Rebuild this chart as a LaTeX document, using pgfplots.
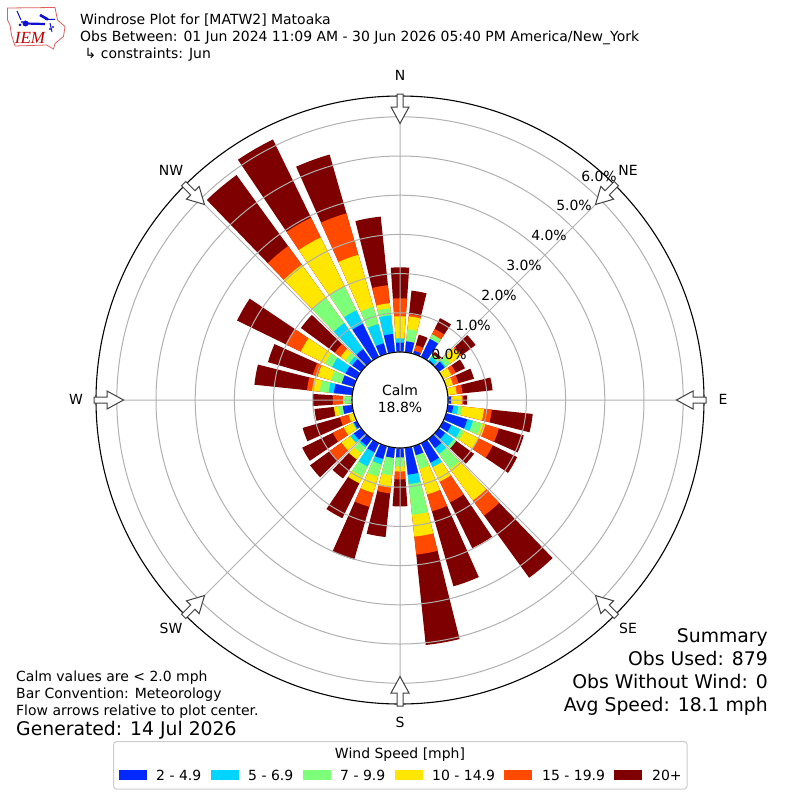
\documentclass[border=0pt]{standalone}
\usepackage{fontspec}
\setmainfont{DejaVu Sans}
\newfontfamily\iemfont{Liberation Serif}
\usepackage{pgfplots}
\usepackage{pgfplotstable}
\usepgfplotslibrary{polar}
\pgfplotsset{compat=1.18}
\definecolor{c1}{HTML}{0028FF}
\definecolor{c2}{HTML}{00D4FF}
\definecolor{c3}{HTML}{7DFF7A}
\definecolor{c4}{HTML}{FFE600}
\definecolor{c5}{HTML}{FF4A00}
\definecolor{c6}{HTML}{7F0000}
\definecolor{ringgray}{HTML}{B0B0B0}
\definecolor{legedge}{HTML}{CCCCCC}
\definecolor{iemred}{HTML}{E06060}
\definecolor{iemblue}{HTML}{1010D0}
\pgfplotstableread{
dir s1 s2 s3 s4 s5 s6
0 .24 .11 0 .56 .46 .79
10 .28 0 .31 .33 .06 .60
20 .08 0 0 0 .15 .28
30 .51 0 .13 0 .15 .31
40 .03 .10 .08 0 0 .08
50 .18 .04 .15 .31 .05 .43
60 0 0 0 .23 .13 .26
70 0 0 0 .18 .15 .41
80 0 0 0 .23 .15 .77
90 .08 0 0 .28 .03 .10
100 .14 .13 .10 .56 .20 1.05
110 .56 .15 .23 .10 .36 .66
120 .23 .26 .10 .41 .41 .69
130 .20 .27 .08 0 0 .56
140 .29 .18 .48 .99 .48 1.96
150 .55 .13 0 .41 .59 1.30
160 .24 0 .36 .68 .45 1.99
170 .69 .24 .79 .56 .46 2.32
180 .24 0 .23 .13 .20 .69
190 .26 0 .45 .31 .15 1.12
200 .34 .14 .33 .43 .37 1.40
210 .26 .40 .29 .19 0 .99
220 .22 .05 .18 .20 0 .60
230 .23 .11 0 .28 .38 .61
240 .08 .03 0 .26 .31 .87
250 0 0 0 .14 .23 .99
260 .24 0 .12 .11 0 .50
270 0 0 .23 0 .26 .51
280 .47 .13 .23 .20 .13 1.35
290 .32 0 .28 .36 .13 1.19
300 .32 .38 .20 .69 .43 1.38
310 .28 .09 .13 .15 .18 1.07
320 .38 .82 .79 1.05 .59 2.24
330 .94 .38 .69 1.38 .56 2.22
340 .28 .51 .46 1.38 1.10 1.56
350 .47 .48 .18 .13 .46 1.76
}\rosedata
\def\rbase{1.2245}
\newcommand{\wedgeplot}[5]{% colour, a0, a1, r0, r1 (a in deg)
  \pgfmathsetmacro\aA{#2}\pgfmathsetmacro\aB{#2+2}\pgfmathsetmacro\aC{#2+4}%
  \pgfmathsetmacro\aD{#2+6}\pgfmathsetmacro\aE{#2+8}%
  \edef\temp{\noexpand\addplot[fill=#1,draw=none,forget plot] coordinates {(\aA,#4) (\aB,#4) (\aC,#4) (\aD,#4) (\aE,#4) (\aE,#5) (\aD,#5) (\aC,#5) (\aB,#5) (\aA,#5)} -- cycle;}%
  \temp}
\newcommand{\fs}[1]{\fontsize{#1}{#1}\selectfont}
\begin{document}
\begin{tikzpicture}[x=1pt,y=-1pt]
\useasboundingbox (0,0) rectangle (800,800);
\begin{polaraxis}[
  at={(400pt,-400pt)},anchor=center,
  scale only axis,width=608pt,height=608pt,
  xmin=0,xmax=360,ymin=0,ymax=7.755,
  clip=false,axis on top=true,
  xtick={0,45,...,315},
  ytick={1.2245,2.2245,3.2245,4.2245,5.2245,6.2245,7.2245},
  xticklabels={},yticklabels={},
  major tick length=0pt,
  grid=major,
  grid style={color=ringgray,line width=1pt},
  x axis line style={black,line width=1.1pt},
  y axis line style={draw=none},
]
\foreach \row in {0,...,35}{%
  \pgfplotstablegetelem{\row}{dir}\of\rosedata
  \pgfmathsetmacro\ang{90-\pgfplotsretval-4}%
  \xdef\curang{\ang}%
  \xdef\cum{\rbase}%
  \foreach \k in {1,...,6}{%
    \pgfplotstablegetelem{\row}{[index]\k}\of\rosedata
    \pgfmathsetmacro\nxt{\cum+\pgfplotsretval}%
    \expandafter\xdef\csname top\k\endcsname{\nxt}%
    \expandafter\xdef\csname bot\k\endcsname{\cum}%
    \xdef\cum{\nxt}%
  }%
  \foreach \k in {6,5,4,3,2,1}{%
    \edef\tt{\csname top\k\endcsname}\edef\bb{\csname bot\k\endcsname}%
    \pgfmathparse{\tt>\bb?1:0}%
    \ifnum\pgfmathresult=1
      \wedgeplot{c\k}{\curang}{0}{\rbase}{\tt}%
    \fi
  }%
}
\end{polaraxis}
% calm disc
\draw[black,fill=white,line width=1.1pt] (400,400) circle (48pt);
\fs{13.97}
\node[anchor=base] at (400,395) {Calm};
\node[anchor=base] at (400,412) {18.8\%};
% compass arrows
\foreach \ang in {0,45,...,315}{
  \begin{scope}[shift={(400,400)},rotate=\ang]
  \draw[fill=white,draw=black!75,line width=1pt,line join=miter]
    (0,-276.5) -- (9,-293) -- (3,-293) -- (3,-306) -- (-3,-306) -- (-3,-293) -- (-9,-293) -- cycle;
  \end{scope}
}
% ring labels
\foreach \x/\y/\t in {449/354/0.0,473/325/1.0,499/295/2.0,524/265/3.0,549/235.5/4.0,574/205/5.0,599/176/6.0}{
  \node[anchor=center,text height=10pt,text depth=0pt,inner sep=0pt] at (\x,\y) {\t\%};
}
\foreach \x/\y/\t in {400/76/N,628/170/NE,723/399/E,628/628/SE,400/722/S,171/628/SW,76/399/W,171/170/NW}{
  \node[anchor=center,text height=10pt,text depth=0pt,inner sep=0pt] at (\x,\y) {\t};
}
% header
\node[anchor=base west,inner sep=0pt] at (80,25) {Windrose Plot for [MATW2] Matoaka};
\node[anchor=base west,inner sep=0pt] at (80,42) {Obs Between: 01 Jun 2024 11:09 AM - 30 Jun 2026 05:40 PM America/New\_York};
\node[anchor=base west,inner sep=0pt] at (84.5,59) {↳ constraints: Jun};
% notes
\node[anchor=base west,inner sep=0pt] at (16,681) {Calm values are < 2.0 mph};
\node[anchor=base west,inner sep=0pt] at (16,698) {Bar Convention: Meteorology};
\node[anchor=base west,inner sep=0pt] at (16,715) {Flow arrows relative to plot center.};
\node[anchor=base west,inner sep=0pt] at (16,735) {\fs{18.8}Generated: 14 Jul 2026};
\node[anchor=base east,inner sep=0pt] at (768,642) {\fs{18.8}Summary};
\node[anchor=base east,inner sep=0pt] at (768,665) {\fs{18.8}Obs Used: 879};
\node[anchor=base east,inner sep=0pt] at (768,688) {\fs{18.8}Obs Without Wind: 0};
\node[anchor=base east,inner sep=0pt] at (768,711) {\fs{18.8}Avg Speed: 18.1 mph};
% legend
\draw[legedge,fill=white,rounded corners=3pt,line width=1pt] (113.5,741.5) rectangle (687,789);
\node[anchor=base,inner sep=0pt] at (400,758) {Wind Speed [mph]};
\foreach \x/\c/\tx/\t in {119/c1/156/2 - 4.9,211/c2/248/5 - 6.9,303/c3/340/7 - 9.9,395/c4/432/10 - 14.9,504/c5/542/15 - 19.9,614/c6/652/20+}{
  \fill[\c] (\x,770) rectangle (\x+28,779.7);
  \node[anchor=base west,inner sep=0pt] at (\tx,780) {\t};
}
% logo
\draw[iemred,line width=0.8pt] (7.5,8) -- (55,7.5) -- (57.5,20) -- (65,26.5) -- (63.5,36.5) -- (55,43.5) -- (53.5,49) -- (46.5,45) -- (15,46) -- (11.5,35) -- (10,25) -- (7.5,20) -- cycle;
\node[anchor=base,inner sep=0pt,text=red!75!black] at (30,44) {\iemfont\itshape\fs{17}IEM};
\draw[iemblue,line width=2.2pt] (25,23.5) -- (45,24);
\fill[iemblue] (25.5,23.5) circle (3pt);
\draw[iemblue,line width=2.6pt] (40,15) -- (48,19.5);
\draw[iemblue,line width=1pt] (45,19.5) -- (55,19.5) (50,23) -- (52,32) (17,11) -- (21,20);
\fill[iemblue] (20,25) circle (1.5pt) (22,22) circle (1.2pt) (50,29) circle (1.2pt) (53,27) circle (1.2pt);
\end{tikzpicture}
\end{document}
